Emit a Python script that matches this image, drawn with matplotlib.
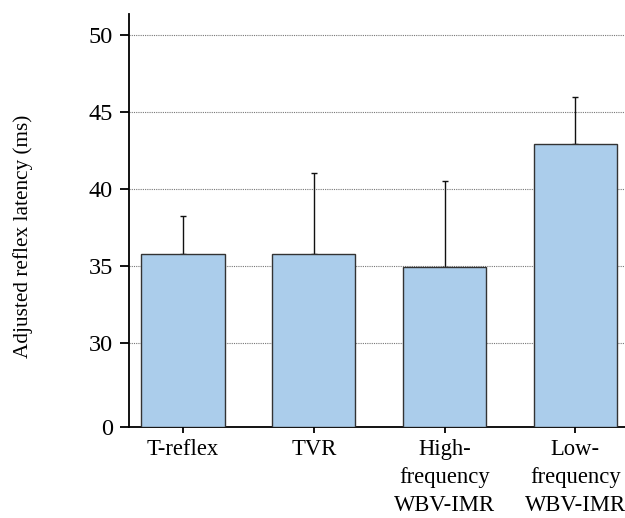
import numpy as np
import matplotlib
matplotlib.use("Agg")
import matplotlib.pyplot as plt

categories = ["T-reflex", "TVR", "High-\nfrequency\nWBV-IMR", "Low-\nfrequency\nWBV-IMR"]
means = [35.8, 35.8, 34.95, 42.9]
errors = [2.45, 5.25, 5.6, 3.1]
yticks = [0, 30, 35, 40, 45, 50]

BREAK = 30.0
LOW_SPAN = 5.45  # compressed span for 0..30

def fwd(y):
    y = np.asarray(y, dtype=float)
    return np.where(y < BREAK, y * LOW_SPAN / BREAK, y - BREAK + LOW_SPAN)

def inv(v):
    v = np.asarray(v, dtype=float)
    return np.where(v < LOW_SPAN, v * BREAK / LOW_SPAN, v + BREAK - LOW_SPAN)

plt.rcParams['font.family'] = ['Liberation Serif', 'DejaVu Serif']
plt.rcParams['font.size'] = 17.5

fig = plt.figure(figsize=(6.25, 5.18), dpi=100)
ax = fig.add_axes([0.2064, 0.1757, 0.7936, 0.7973])
ax.set_yscale('function', functions=(fwd, inv))

x = np.arange(len(categories))
ax.bar(x, means, width=0.635, color='#abcdeb', edgecolor='#333333', linewidth=1.0, zorder=3)
ax.errorbar(x, means, yerr=[np.zeros(len(errors)), errors], fmt='none', ecolor='#111111',
            elinewidth=1.0, capsize=2.3, capthick=1.0, zorder=2)

ax.set_ylim(0, 51.36)
ax.set_xlim(-0.413, 3.38)
ax.set_yticks(yticks)
ax.set_yticklabels([str(t) for t in yticks])
ax.set_xticks(x)
ax.set_xticklabels(categories, linespacing=1.45, fontsize=16.3)

for t in yticks[1:]:
    ax.axhline(t, color='#777777', linestyle=(0, (1, 1)), linewidth=0.8, zorder=1)

ax.spines['top'].set_visible(False)
ax.spines['right'].set_visible(False)
ax.spines['left'].set_linewidth(1.3)
ax.spines['bottom'].set_linewidth(1.3)
ax.tick_params(axis='y', direction='out', length=6.5, width=1.3, colors='black', pad=5)
ax.tick_params(axis='x', direction='out', length=4.5, width=1.3, colors='black', pad=4)

ax.set_ylabel("Adjusted reflex latency (ms)", fontsize=15.3)
ax.yaxis.set_label_coords(-0.1935, 0.4625)

fig.savefig("out.png", dpi=100)
